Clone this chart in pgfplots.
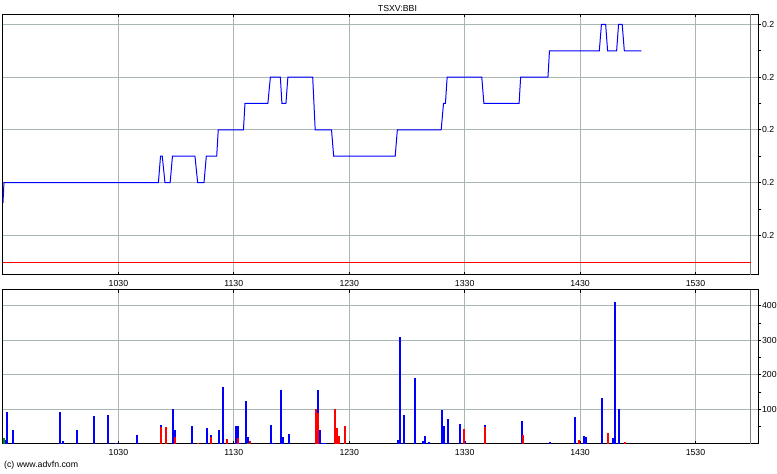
\documentclass[border=0pt]{standalone}
\usepackage{fontspec}
\setmainfont{Liberation Sans}
\usepackage{pgfplots}
\pgfplotsset{compat=1.18}
\definecolor{gridc}{RGB}{168,182,182}
\definecolor{vblue}{RGB}{0,0,255}
\definecolor{vred}{RGB}{255,0,0}
\definecolor{vgreen}{RGB}{0,150,0}
\definecolor{endline}{RGB}{128,128,128}
\newcommand\cf{\fontsize{8.8bp}{10bp}\selectfont}
\pgfplotsset{
 advfn/.style={
  scale only axis, anchor=south west, width=759.3bp,
  xmin=0, xmax=392.7,
  xtick={60,120,180,240,300,360},
  grid=major,
  major grid style={draw=gridc, line width=1bp},
  axis line style={line width=1bp, black},
  tick style={black, line width=0.8bp},
  ytick pos=right, xtick pos=both,
  tick align=inside,
  major tick length=3bp, minor tick length=2bp,
  every y tick/.append style={xshift=3bp},
  /pgf/number format/assume math mode=true,
  tick label style={font=\cf},
  yticklabel style={anchor=west, inner sep=0pt, xshift=3.5bp},
  extra x ticks={388.6},
  extra x tick labels={},
  extra x tick style={grid=major, major grid style={draw=endline, line width=1bp}, major tick length=0pt},
 }
}
\begin{document}
\begin{tikzpicture}
\path[use as bounding box] (0,-1.2bp) rectangle (781bp,475.2bp);
% price panel
\begin{axis}[advfn, at={(3bp,199bp)}, height=261.7bp,
  ymin=0.1925, ymax=0.2419,
  ytick={0.20,0.21,0.22,0.23,0.24},
  yticklabels={0.2,0.2,0.2,0.2,0.2},
  minor ytick={0.205,0.215,0.225,0.235},
  xticklabels={}]
\addplot[vred, line width=1bp] coordinates {(0,0.1948) (388.6,0.1948)};
\addplot[vblue, line width=1bp] coordinates {
(0,0.2061) (0.5,0.21) (80.8,0.21) (81.9,0.215) (82.8,0.215) (84.2,0.21) (86.9,0.21)
(88.1,0.215) (99.8,0.215) (101.2,0.21) (104.5,0.21) (105.7,0.215) (111.1,0.215)
(111.9,0.22) (125.0,0.22) (125.8,0.225) (137.7,0.225) (139.0,0.23) (144.2,0.23)
(145.0,0.225) (147.1,0.225) (148.1,0.23) (161.0,0.23) (162.3,0.22) (170.8,0.22)
(171.9,0.215) (203.9,0.215) (205.0,0.22) (227.8,0.22) (229.0,0.225) (230.0,0.225)
(230.9,0.23) (248.9,0.23) (250.0,0.225) (268.3,0.225) (269.1,0.23) (283.3,0.23)
(284.1,0.235) (310.0,0.235) (311.1,0.24) (313.3,0.24) (314.3,0.235) (319.0,0.235)
(320.0,0.24) (321.9,0.24) (323.0,0.235) (331.9,0.235)};
\end{axis}
% volume panel
\begin{axis}[advfn, at={(3bp,29bp)}, height=155bp,
  ymin=0, ymax=446,
  ytick={100,200,300,400},
  minor ytick={50,150,250,350},
  xticklabels={1030,1130,1230,1330,1430,1530},
  xticklabel style={anchor=north, inner sep=0pt, yshift=-5.3bp}]
\addplot[ycomb, vblue, line width=2bp, mark=none] coordinates {
(1.2,10) (2.2,91) (5.3,39) (29.6,91) (31.2,7) (38.4,39) (47.2,80) (54.5,83) (58.6,4)
(69.5,27) (82.4,56) (88.6,100) (89.6,39) (98.4,51) (106.2,45) (108.3,27) (112.4,39)
(114.5,164) (121.3,51) (122.3,51) (123.3,4) (126.4,123) (127.4,21) (139.3,56)
(140.3,4) (144.5,155) (145.5,19) (148.6,30) (163.6,155) (164.6,39) (166.2,4)
(167.2,4) (205.5,12) (206.5,308) (208.6,84) (214.3,192) (218.4,9) (219.5,23)
(221.5,6) (228.3,99) (229.3,52) (231.4,73) (237.6,58) (240.2,9) (250.5,55)
(269.6,65) (284.6,5) (297.6,77) (300.1,4) (302.2,22) (303.3,19) (311.5,132)
(317.2,16) (318.3,410) (320.3,100)};
\addplot[ycomb, vred, line width=2bp, mark=none] coordinates {
(82.4,49) (84.5,48) (89.6,19) (101.5,4) (108.3,21) (116.6,13) (122.3,16) (128.4,7)
(162.6,100) (163.6,90) (172.4,100) (173.4,45) (174.5,24) (177.6,51) (239.6,44)
(250.5,49) (270.1,26) (299.6,10) (314.6,31) (323.5,5)};
\addplot[ycomb, vgreen, line width=2bp, mark=none] coordinates {
(0.3,16) (127.4,4)};
\end{axis}
% upper tick labels of the volume panel
\begin{axis}[scale only axis, anchor=south west, at={(3bp,29bp)},
  width=759.3bp, height=155bp, xmin=0, xmax=392.7, ymin=0, ymax=446,
  axis line style={draw=none}, ytick=\empty,
  xtick={60,120,180,240,300,360},
  xticklabels={1030,1130,1230,1330,1430,1530},
  xticklabel pos=right, major tick length=0pt,
  /pgf/number format/assume math mode=true,
  xticklabel style={font=\cf, anchor=south, inner sep=0pt, yshift=2.8bp}]
\end{axis}
\node[font=\cf] at (399.5bp,467bp) {TSXV:BBI};
\node[font=\cf, anchor=west, inner sep=0pt] at (4bp,8bp) {(c) www.advfn.com};
\end{tikzpicture}
\end{document}
